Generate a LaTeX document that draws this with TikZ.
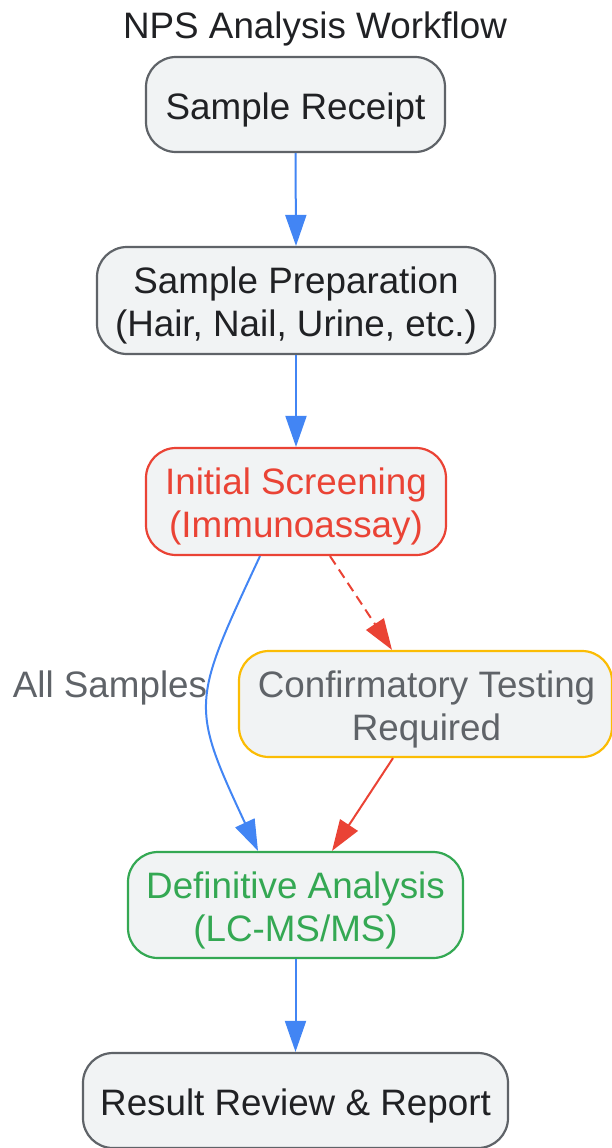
\documentclass[tikz,border=0pt]{standalone}
\usepackage{fontspec}
\setmainfont{Liberation Sans}
\usetikzlibrary{arrows.meta}
\definecolor{fillg}{HTML}{F1F3F4}
\definecolor{bordg}{HTML}{5F6368}
\definecolor{txtd}{HTML}{202124}
\definecolor{gred}{HTML}{EA4335}
\definecolor{ggreen}{HTML}{34A853}
\definecolor{gyel}{HTML}{FBBC04}
\definecolor{gblue}{HTML}{4285F4}
\begin{document}
\begin{tikzpicture}[x=1pt,y=1pt,
 bigfont/.style={font=\fontsize{36.8}{43}\selectfont},
 box/.style={draw=bordg, fill=fillg, line width=2.2pt, rounded corners=30pt, inner sep=0pt},
 lbl/.style={bigfont, align=center, inner sep=0pt, yshift=-5pt, text=txtd},
 flow/.style={draw=gblue, line width=2pt, -{Triangle[length=31pt,width=21pt]}},
 redflow/.style={draw=gred, line width=2pt, -{Triangle[length=31pt,width=21pt]}},
]
\useasboundingbox (0,0) rectangle (611,-1148);
\node[bigfont, text=txtd] (title) at (315,-29) {NPS Analysis Workflow};
\node[box, minimum width=299pt, minimum height=95pt,
  label={[lbl]center:{Sample Receipt}}] (rec) at (295.5,-104.5) {};
\node[box, minimum width=398pt, minimum height=107pt,
  label={[lbl]center:{Sample Preparation\\(Hair, Nail, Urine, etc.)}}] (prep) at (296,-300.5) {};
\node[box, draw=gred, minimum width=300pt, minimum height=107pt,
  label={[lbl, text=gred]center:{Initial Screening\\(Immunoassay)}}] (init) at (296,-501.5) {};
\node[box, draw=gyel, minimum width=373pt, minimum height=106pt,
  label={[lbl, text=bordg, xshift=1pt]center:{Confirmatory Testing\\Required}}] (conf) at (425.5,-704) {};
\node[box, draw=ggreen, minimum width=335pt, minimum height=106pt,
  label={[lbl, text=ggreen]center:{Definitive Analysis\\(LC-MS/MS)}}] (def) at (295.5,-905) {};
\node[box, minimum width=425pt, minimum height=95pt,
  label={[lbl]center:{Result Review \& Report}}] (res) at (295.5,-1100.5) {};
\node[bigfont, text=bordg] (lab) at (110,-688) {All Samples};
\draw[flow] (rec.south) -- (prep.north);
\draw[flow] (prep.south) -- (init.north);
\draw[flow] ([xshift=-36pt]init.south) to[out=-115, in=115, looseness=1.4] ([xshift=-37.5pt]def.north);
\draw[redflow, dash pattern=on 10pt off 6pt] ([xshift=34pt]init.south) -- ([xshift=-33.5pt]conf.north);
\draw[redflow] ([xshift=-32.5pt]conf.south) -- ([xshift=36.5pt]def.north);
\draw[flow] (def.south) -- (res.north);
\end{tikzpicture}
\end{document}
